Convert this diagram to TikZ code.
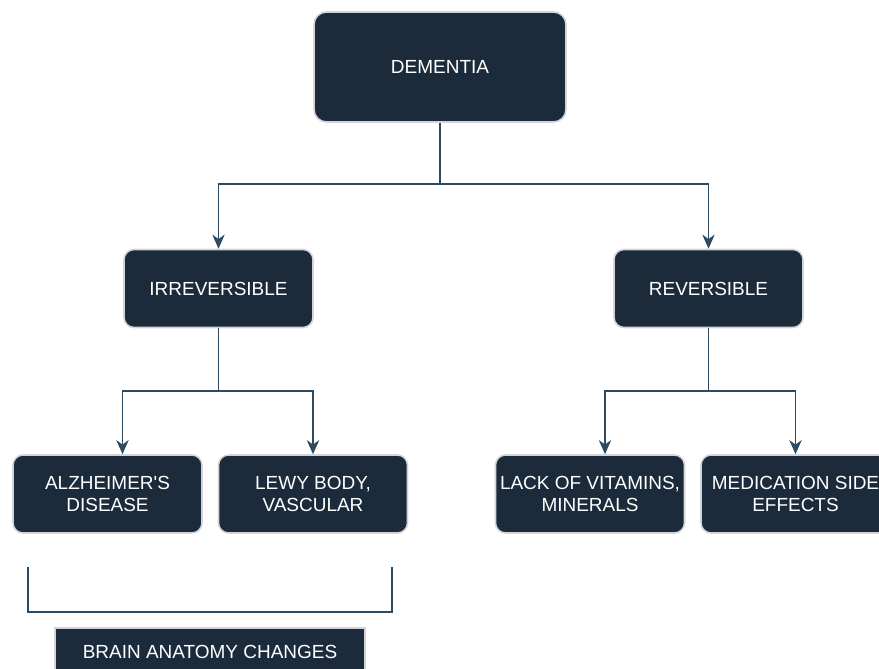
\documentclass[tikz,border=0pt]{standalone}
\usepackage{fontspec}
\setmainfont{Liberation Sans}
\usetikzlibrary{arrows.meta}
\definecolor{navy}{HTML}{1B2B3C}
\definecolor{edge}{HTML}{D4D4D4}
\definecolor{wire}{HTML}{2E4A62}
\tikzset{
  box/.style={draw=edge,line width=0.9pt,fill=navy,text=white,rounded corners=0.2cm,inner xsep=0pt,
    minimum width=3.78cm,minimum height=1.56cm,align=center,font=\fontsize{10.8}{12.5}\selectfont},
  link/.style={draw=wire,line width=0.95pt,-{Stealth[length=8pt,width=7pt,inset=2.5pt]}}
}
\begin{document}
\begin{tikzpicture}[x=0.02cm,y=-0.02cm]
  \useasboundingbox (0,0) rectangle (879,669);
  \node[box,minimum width=5.04cm,minimum height=2.2cm,rounded corners=0.25cm] (dem) at (440,67) {DEMENTIA};
  \node[box] (irr) at (218.5,288.5) {IRREVERSIBLE};
  \node[box] (rev) at (708.5,288.5) {REVERSIBLE};
  \node[box] (alz) at (107.5,494) {ALZHEIMER\textquotesingle S\\DISEASE};
  \node[box] (lewy) at (313,494) {LEWY BODY,\\VASCULAR};
  \node[box] (vit) at (590,494) {LACK OF VITAMINS,\\MINERALS};
  \node[box] (med) at (795.5,494) {MEDICATION SIDE\\EFFECTS};
  \node[box,rounded corners=0pt,minimum width=6.2cm,minimum height=0.96cm] (brain) at (210,652) {BRAIN ANATOMY CHANGES};
  % tree connectors
  \draw[link] (dem.south) -- ++(0,61) -| (irr.north);
  \draw[link] (dem.south) -- ++(0,61) -| (rev.north);
  \draw[link] (irr.south) -- ++(0,63) -| ([xshift=0.3cm]alz.north);
  \draw[link] (irr.south) -- ++(0,63) -| (lewy.north);
  \draw[link] (rev.south) -- ++(0,63) -| ([xshift=0.3cm]vit.north);
  \draw[link] (rev.south) -- ++(0,63) -| (med.north);
  % bracket
  \draw[wire,line width=0.95pt] (28,567) -- (28,612) -- (392,612) -- (392,567);
\end{tikzpicture}
\end{document}
